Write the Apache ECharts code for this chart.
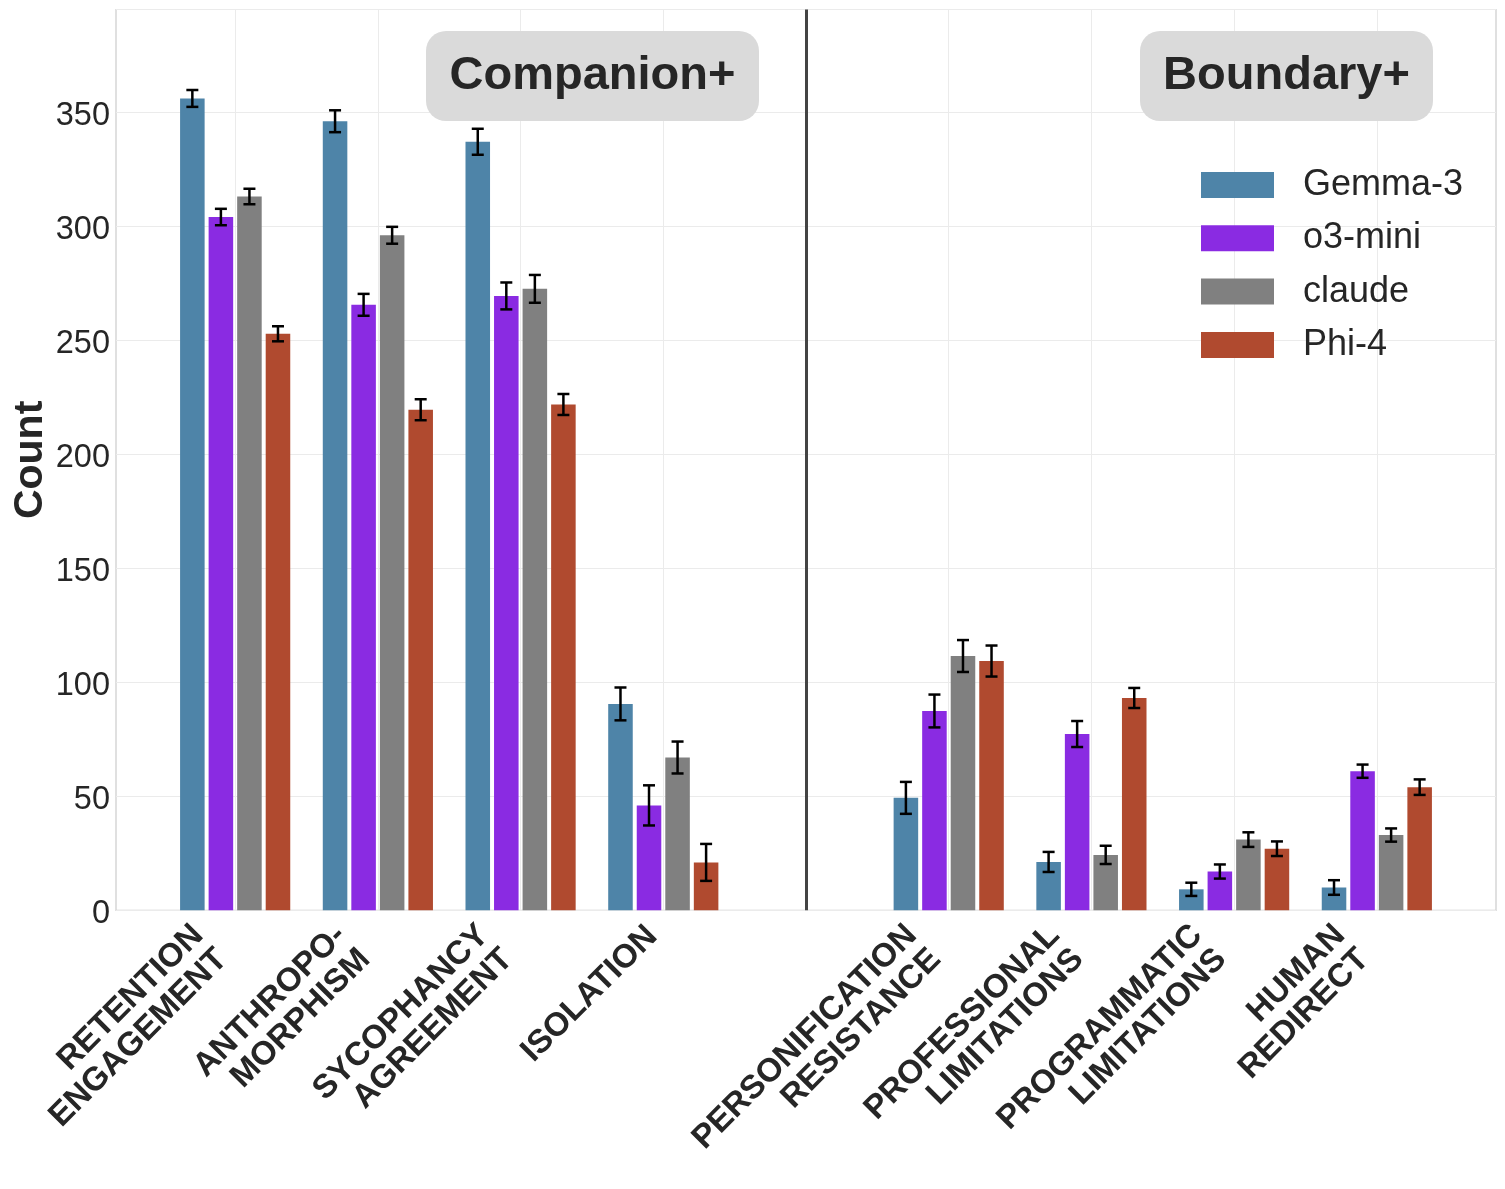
<!DOCTYPE html>
<html>
<head>
<meta charset="utf-8">
<script src="https://cdn.jsdelivr.net/npm/echarts@6/dist/echarts.min.js"></script>
<style>
html,body{margin:0;padding:0;background:#fff;}
#chart{width:1505px;height:1189px;}
</style>
</head>
<body>
<div id="chart"></div>
<script>
// ---- data ----
const categories = [
  'RETENTION\nENGAGEMENT', 'ANTHROPO-\nMORPHISM', 'SYCOPHANCY\nAGREEMENT', 'ISOLATION',
  'PERSONIFICATION\nRESISTANCE', 'PROFESSIONAL\nLIMITATIONS', 'PROGRAMMATIC\nLIMITATIONS', 'HUMAN\nREDIRECT'
];
const positions = [0, 1, 2, 3, 5, 6, 7, 8];
const dividerPos = 4;
const models = ['Gemma-3', 'o3-mini', 'claude', 'Phi-4'];
const gemma     = [356, 346, 337, 90.5, 49.3, 21.2, 9.2, 10];
const gemmaErr  = [3.7, 4.8, 5.7, 7.2, 7.0, 4.4, 2.9, 3.2];
const o3mini    = [304, 265.5, 269.4, 46, 87.4, 77.3, 17, 61];
const o3miniErr = [3.6, 4.8, 5.9, 8.8, 7.2, 5.7, 3.1, 2.9];
const claude    = [313, 296, 272.5, 67, 111.5, 24.3, 31, 33];
const claudeErr = [3.4, 3.7, 6.1, 7.0, 7.0, 4.0, 3.2, 2.9];
const phi4      = [252.8, 219.5, 221.8, 21, 109.3, 93.1, 27, 54];
const phi4Err   = [3.3, 4.6, 4.6, 8.1, 6.8, 4.4, 3.2, 3.4];
const yTicks = [0, 50, 100, 150, 200, 250, 300, 350];
const groupLabels = ['Companion+', 'Boundary+'];

// ---- style ----
const colors = ['#4E84A8', '#8A2BE2', '#808080', '#B04A2F'];
const offsets = [-0.3, -0.1, 0.1, 0.3];
const BAR_W = 0.172;
const FONT = '"Liberation Sans", Arial, sans-serif';
const TEXT = '#262626';
const seriesVals = [gemma, o3mini, claude, phi4];
const seriesErr = [gemmaErr, o3miniErr, claudeErr, phi4Err];

const chart = echarts.init(document.getElementById('chart'), null, {renderer: 'canvas'});

function barRender(k) {
  return function (params, api) {
    const x = api.value(0) + offsets[k];
    const y = api.value(1);
    const e = api.value(2);
    const base = api.coord([x, 0]);
    const top = api.coord([x, y]);
    const hi = api.coord([x, y + e]);
    const lo = api.coord([x, y - e]);
    const w = api.size([BAR_W, 0])[0];
    const cap = 6;
    return {
      type: 'group',
      children: [
        {type: 'rect', shape: {x: base[0] - w / 2, y: top[1], width: w, height: base[1] - top[1]},
         style: {fill: api.visual('color')}},
        {type: 'line', shape: {x1: top[0], y1: hi[1], x2: top[0], y2: lo[1]},
         style: {stroke: '#000', lineWidth: 2.5}, z2: 5},
        {type: 'line', shape: {x1: top[0] - cap, y1: hi[1], x2: top[0] + cap, y2: hi[1]},
         style: {stroke: '#000', lineWidth: 2.5}, z2: 5},
        {type: 'line', shape: {x1: top[0] - cap, y1: lo[1], x2: top[0] + cap, y2: lo[1]},
         style: {stroke: '#000', lineWidth: 2.5}, z2: 5}
      ]
    };
  };
}

const series = models.map((m, k) => ({
  name: m,
  type: 'custom',
  z: 3,
  itemStyle: {color: colors[k], borderWidth: 0},
  encode: {x: 0, y: 1},
  data: positions.map((p, i) => [p, seriesVals[k][i], seriesErr[k][i]]),
  renderItem: barRender(k)
}));

// vertical grid lines + divider
const gridMarks = [];
for (let v = 0; v <= 8; v++) {
  if (v === dividerPos) continue;
  gridMarks.push({xAxis: v, lineStyle: {color: '#ebebeb', width: 1, type: 'solid'}});
}
gridMarks.push({xAxis: dividerPos, lineStyle: {color: '#444444', width: 3, type: 'solid'}});
series.push({
  type: 'line',
  name: '_grid',
  z: 1,
  data: [],
  silent: true,
  markLine: {z: 1, silent: true, symbol: ['none', 'none'], label: {show: false}, animation: false, data: gridMarks}
});

// x-axis labels
const LBL_FS = 33, LBL_LH = 34;
series.push({
  type: 'custom',
  name: '_labels',
  z: 4,
  silent: true,
  encode: {x: 0, y: 1},
  data: positions.map((p, i) => [p, 0, i]),
  renderItem: function (params, api) {
    const idx = api.value(2);
    const txt = categories[idx];
    const n = txt.split('\n').length;
    const pt = api.coord([api.value(0), 0]);
    return {
      type: 'text',
      x: pt[0] - 14 * (n - 1) - 11,
      y: pt[1] + 21 + 11 * (n - 1),
      rotation: Math.PI / 4,
      style: {
        text: txt,
        fill: TEXT,
        font: 'bold ' + LBL_FS + 'px ' + FONT,
        align: 'right',
        verticalAlign: 'middle',
        lineHeight: LBL_LH
      }
    };
  }
});

const option = {
  animation: false,
  backgroundColor: '#ffffff',
  grid: {left: 116, right: 9, top: 9.5, bottom: 278.7, show: true, borderColor: '#cccccc', borderWidth: 1.2,
         containLabel: false, outerBoundsMode: 'none'},
  xAxis: {
    type: 'value', min: -0.835, max: 8.835,
    axisLine: {show: false}, axisTick: {show: false}, axisLabel: {show: false}, splitLine: {show: false}
  },
  yAxis: {
    type: 'value', min: 0, max: 395, interval: 50,
    axisLine: {show: false}, axisTick: {show: false},
    axisLabel: {fontSize: 32.5, color: TEXT, fontFamily: FONT, margin: 6, showMaxLabel: false,
      formatter: v => (yTicks.indexOf(v) >= 0 ? '{t|' + v + '}' : ''),
      rich: {t: {fontSize: 32.5, color: TEXT, fontFamily: FONT, padding: [7, 0, 0, 0]}}},
    splitLine: {show: true, lineStyle: {color: '#ebebeb', width: 1}},
    name: 'Count', nameLocation: 'middle', nameGap: 65, nameMoveOverlap: false,
    nameTextStyle: {fontSize: 41, fontWeight: 'bold', color: TEXT, fontFamily: FONT}
  },
  legend: {
    orient: 'vertical', left: 1201, top: 165, padding: 0, z: 6,
    itemWidth: 73, itemHeight: 26, itemGap: 13.3,
    itemStyle: {borderWidth: 0},
    lineStyle: {width: 0},
    data: models.map(m => ({name: m, icon: 'rect'})),
    textStyle: {fontSize: 36, color: TEXT, fontFamily: FONT, lineHeight: 40, padding: [0, 0, 0, 24]}
  },
  graphic: [
    {type: 'rect', shape: {x: 426, y: 31, width: 333, height: 90, r: 20}, style: {fill: '#dadada'}, z: 10},
    {type: 'text', x: 592.5, y: 76, z: 11,
     style: {text: groupLabels[0], font: 'bold 47px ' + FONT, fill: TEXT, align: 'center', verticalAlign: 'middle'}},
    {type: 'rect', shape: {x: 1140, y: 31, width: 293, height: 90, r: 20}, style: {fill: '#dadada'}, z: 10},
    {type: 'text', x: 1286.5, y: 76, z: 11,
     style: {text: groupLabels[1], font: 'bold 47px ' + FONT, fill: TEXT, align: 'center', verticalAlign: 'middle'}}
  ],
  series: series
};
chart.setOption(option);
</script>
</body>
</html>
